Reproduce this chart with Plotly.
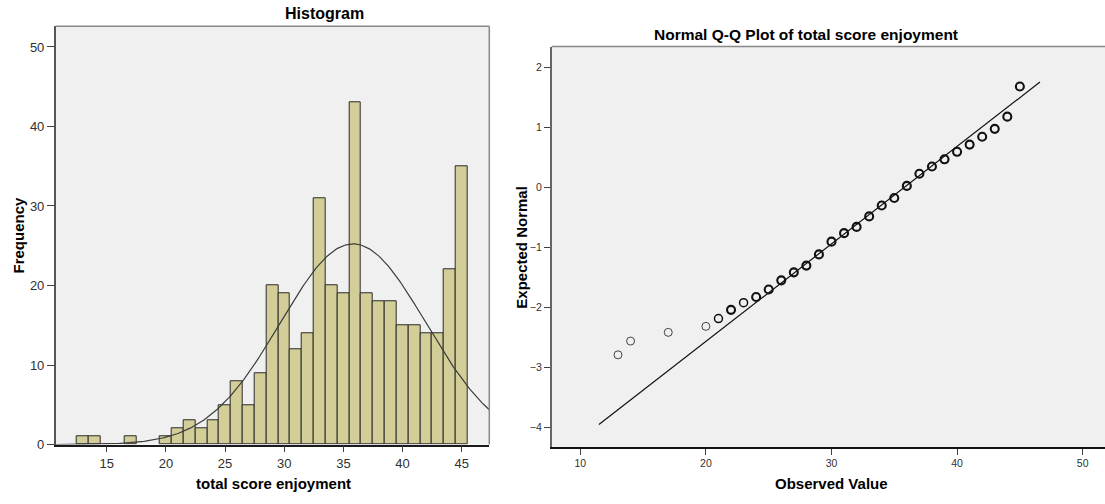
import math
import plotly.graph_objects as go

# ---------------- data ----------------
score_values = [13, 14, 17, 20, 21, 22, 23, 24, 25, 26, 27, 28, 29, 30, 31, 32, 33,
                34, 35, 36, 37, 38, 39, 40, 41, 42, 43, 44, 45]
frequencies = [1, 1, 1, 1, 2, 3, 2, 3, 5, 8, 5, 9, 20, 19, 12, 14, 31,
               20, 19, 43, 19, 18, 18, 15, 15, 14, 14, 22, 35]
expected_normal = [-2.795, -2.565, -2.42, -2.32, -2.19, -2.045, -1.925, -1.83, -1.705,
                   -1.553, -1.42, -1.307, -1.12, -0.908, -0.766, -0.662, -0.487,
                   -0.306, -0.18, 0.022, 0.224, 0.345, 0.465, 0.59, 0.71, 0.842,
                   0.973, 1.176, 1.679]
qq_line_x = [11.48, 46.6]

hist_xticks = [15, 20, 25, 30, 35, 40, 45]
hist_yticks = [0, 10, 20, 30, 40, 50]
qq_xticks = [10, 20, 30, 40, 50]
qq_yticks = [-4, -3, -2, -1, 0, 1, 2]

# ---------------- derived normal fit ----------------
n = sum(frequencies)
mean = sum(v * f for v, f in zip(score_values, frequencies)) / n
var = sum(f * (v - mean) ** 2 for v, f in zip(score_values, frequencies)) / (n - 1)
sd = math.sqrt(var)

x_lo, x_hi = 10.69, 47.33
curve_x = [x_lo + (x_hi - x_lo) * i / 300 for i in range(301)]
curve_y = [n / (sd * math.sqrt(2 * math.pi)) * math.exp(-0.5 * ((x - mean) / sd) ** 2)
           for x in curve_x]
qq_line_y = [(x - mean) / sd for x in qq_line_x]

W, H = 1105, 504
FONT = "Liberation Sans, Arial, sans-serif"
BAR_FILL = "#D3CE97"
PLOT_BG = "#F0F0F0"

fig = go.Figure()

fig.add_trace(go.Bar(
    x=score_values, y=frequencies, width=1,
    marker=dict(color=BAR_FILL, line=dict(color="#2a2a2a", width=1)),
    xaxis="x", yaxis="y", showlegend=False, hoverinfo="x+y"))

fig.add_trace(go.Scatter(
    x=curve_x, y=curve_y, mode="lines",
    line=dict(color="#3c3c3c", width=1.2),
    xaxis="x", yaxis="y", showlegend=False, hoverinfo="skip"))

fig.add_trace(go.Scatter(
    x=qq_line_x, y=qq_line_y, mode="lines",
    line=dict(color="#111111", width=1.2),
    xaxis="x2", yaxis="y2", showlegend=False, hoverinfo="skip"))

marker_widths = [1.0 if f == 1 else (1.5 if f == 2 else 2.1) for f in frequencies]
marker_colors = ["#444444" if f == 1 else "#111111" for f in frequencies]
fig.add_trace(go.Scatter(
    x=score_values, y=expected_normal, mode="markers",
    marker=dict(symbol="circle-open", size=8, color=marker_colors,
                line=dict(width=marker_widths, color=marker_colors)),
    xaxis="x2", yaxis="y2", showlegend=False))

def px(xp):
    return xp / W

def py(yp):
    return (H - yp) / H

tickfont_h = dict(family=FONT, size=13, color="#303030")
tickfont_q = dict(family=FONT, size=10.5, color="#303030")

fig.update_layout(
    width=W, height=H, autosize=False,
    margin=dict(l=0, r=0, t=0, b=0, pad=0),
    paper_bgcolor="white",
    plot_bgcolor=PLOT_BG,
    bargap=0,
    xaxis=dict(domain=[px(55.7), px(489.3)], range=[x_lo, x_hi],
               tickvals=hist_xticks, ticks="outside", ticklen=6, tickwidth=1.3,
               tickcolor="#404040", showgrid=False, zeroline=False,
               showline=True, linecolor="#1a1a1a", linewidth=1.5,
               tickfont=tickfont_h, anchor="y"),
    yaxis=dict(domain=[py(451.7), py(26.7)], range=[0, 52.6],
               tickvals=hist_yticks, ticks="outside", ticklen=7, tickwidth=1.3,
               tickcolor="#404040", showgrid=False, zeroline=False,
               showline=True, linecolor="#555555", linewidth=1.5,
               tickfont=tickfont_h, anchor="x"),
    xaxis2=dict(domain=[px(551.7), 1.0], range=[7.72, 51.78],
                tickvals=qq_xticks, ticks="outside", ticklen=6, tickwidth=1.3,
                tickcolor="#404040", showgrid=False, zeroline=False,
                showline=True, linecolor="#111111", linewidth=1.5,
                tickfont=tickfont_q, anchor="y2"),
    yaxis2=dict(domain=[py(454.3), py(47.3)], range=[-4.333, 2.345],
                tickvals=qq_yticks, ticks="outside", ticklen=6, tickwidth=1.3,
                tickcolor="#404040", showgrid=False, zeroline=False,
                showline=True, linecolor="#666666", linewidth=1.5,
                tickfont=tickfont_q, anchor="x2"),
    shapes=[
        dict(type="line", xref="paper", yref="paper", x0=px(55.7), x1=px(489.3),
             y0=py(26.7), y1=py(26.7), line=dict(color="#888888", width=1.5)),
        dict(type="line", xref="paper", yref="paper", x0=px(489.3), x1=px(489.3),
             y0=py(26.7), y1=py(451.7), line=dict(color="#888888", width=1.5)),
        dict(type="line", xref="paper", yref="paper", x0=px(551.7), x1=1.0,
             y0=py(47.3), y1=py(47.3), line=dict(color="#888888", width=1.5)),
    ],
    annotations=[
        dict(text="<b>Histogram</b>", x=px(324), y=py(13.5), xref="paper", yref="paper",
             showarrow=False, xanchor="center", yanchor="middle",
             font=dict(family=FONT, size=16, color="black")),
        dict(text="<b>Frequency</b>", x=px(18.3), y=py(239), xref="paper", yref="paper",
             showarrow=False, xanchor="center", yanchor="middle", textangle=-90,
             font=dict(family=FONT, size=15, color="black")),
        dict(text="<b>total score enjoyment</b>", x=px(273), y=py(491.5), xref="paper",
             yref="paper", showarrow=False, xanchor="center", yanchor="middle",
             font=dict(family=FONT, size=15, color="black")),
        dict(text="<b>Normal Q-Q Plot of total score enjoyment</b>", x=px(806.3), y=py(35.5),
             xref="paper", yref="paper", showarrow=False, xanchor="center", yanchor="middle",
             font=dict(family=FONT, size=15.5, color="black")),
        dict(text="<b>Observed Value</b>", x=px(831.7), y=py(491.5), xref="paper",
             yref="paper", showarrow=False, xanchor="center", yanchor="middle",
             font=dict(family=FONT, size=15, color="black")),
        dict(text="<b>Expected Normal</b>", x=px(521.2), y=py(251.5), xref="paper",
             yref="paper", showarrow=False, xanchor="center", yanchor="middle",
             textangle=-90, font=dict(family=FONT, size=15, color="black")),
    ],
)

fig.write_html("out.html", config={"responsive": False},
               default_width="1105px", default_height="504px")
